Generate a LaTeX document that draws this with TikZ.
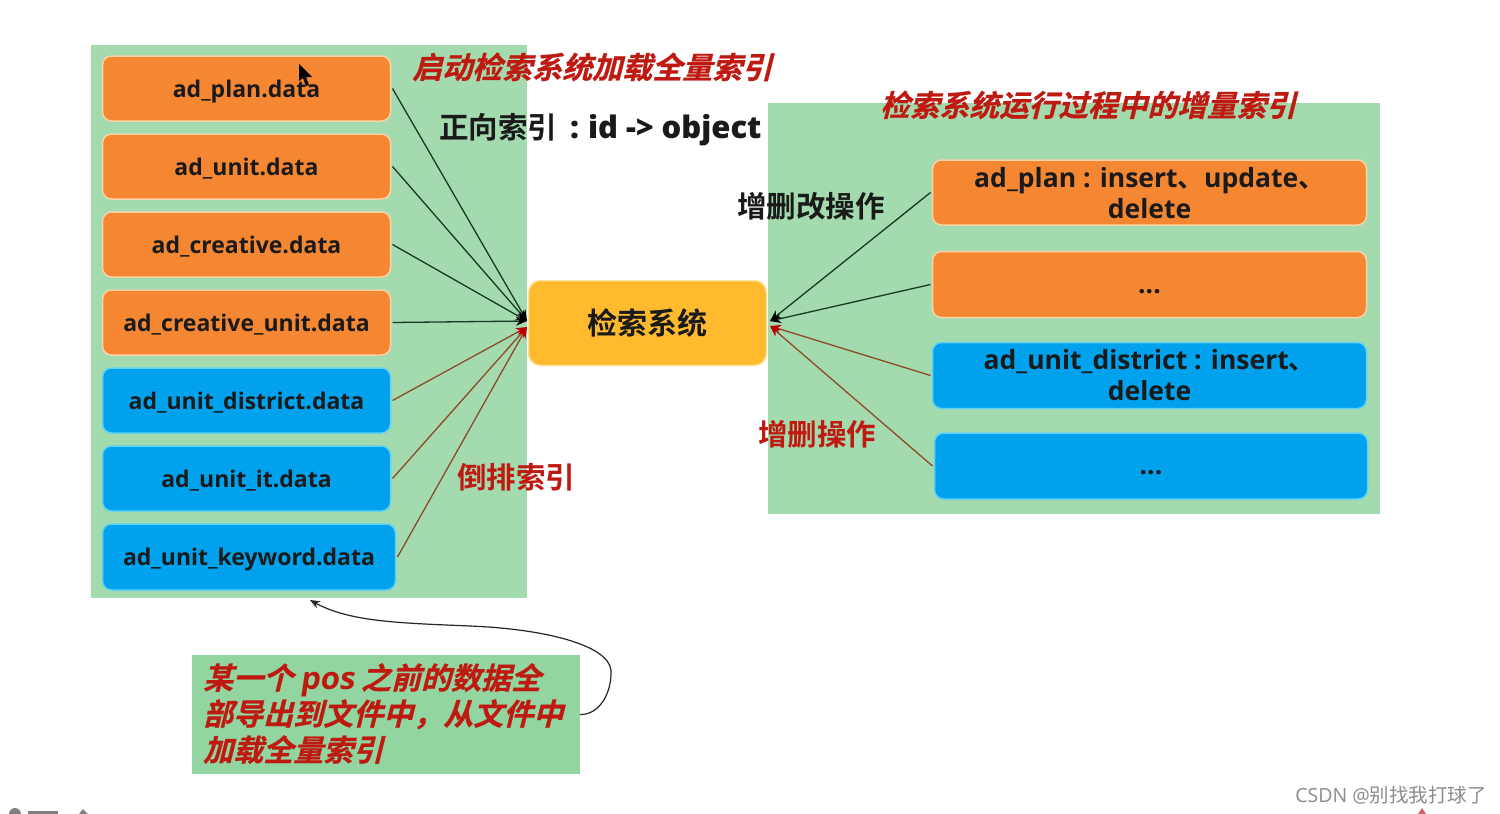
\documentclass[tikz,border=0pt]{standalone}
\usepackage{fontspec}
\setmainfont{Open Sans}
\newfontfamily\cjk{Noto Sans CJK SC}[BoldFont={Noto Sans CJK SC Bold}]
\newfontfamily\cjkit{Noto Sans CJK SC Bold}[FakeSlant=0.25,FakeBold=0.7]
\newfontfamily\latit{Open Sans Bold}[FakeSlant=0.15]
\newfontfamily\latb{Open Sans Bold}
\usetikzlibrary{arrows.meta}
\definecolor{panelg}{HTML}{A3DBAF}
\definecolor{noteg}{HTML}{92D5A0}
\definecolor{orangeb}{HTML}{F58733}
\definecolor{oedge}{HTML}{F9D2A8}
\definecolor{blueb}{HTML}{00A2EE}
\definecolor{bedge}{HTML}{5FD3F0}
\definecolor{hubc}{HTML}{FFBA2E}
\definecolor{hube}{HTML}{FBE3A0}
\definecolor{redt}{HTML}{BF1A12}
\definecolor{inkt}{HTML}{1A1A1A}
\definecolor{redl}{HTML}{8E4A28}
\definecolor{blkl}{HTML}{173A22}
\newcommand{\lowtxt}[2][8.5pt]{\raisebox{-#1}[0pt][0pt]{#2}}
\tikzset{
 panel/.style={fill=panelg,draw=none,inner sep=0,outer sep=0},
 card/.style={rounded corners=9pt,line width=1.5pt,inner sep=0,outer sep=2pt,align=center,font=\latb\fontsize{23}{31}\selectfont,text=inkt},
 orangecard/.style={card,fill=orangeb,draw=oedge},
 bluecard/.style={card,fill=blueb,draw=bedge},
 widetext/.style={font=\latb\fontsize{26.5}{31}\selectfont},
 hubbox/.style={rounded corners=12pt,line width=1.5pt,fill=hubc,draw=hube,inner sep=0,outer sep=0,font=\cjk\bfseries\fontsize{30}{36}\selectfont,text=inkt},
 redtitle/.style={inner sep=0,text=redt,font=\cjkit\fontsize{30}{36}\selectfont},
 redplain/.style={inner sep=0,text=redt,font=\cjk\bfseries\fontsize{29.5}{36}\selectfont},
 blacklabel/.style={inner sep=0,text=inkt,font=\cjk\bfseries\fontsize{29.5}{36}\selectfont},
 blackconn/.style={draw=blkl,line width=1.3pt,-{Stealth[length=11pt,width=9pt,color=black]}},
 redconn/.style={draw=redl,line width=1.3pt,-{Stealth[length=11pt,width=9pt,color=red!75!black]}},
}
\begin{document}
\begin{tikzpicture}[x=1pt,y=-1pt]
\useasboundingbox (0,0) rectangle (1500,814);
\fill[white] (0,0) rectangle (1500,814);
\node[panel,minimum width=436pt,minimum height=553pt] (lp) at (309,321.5) {};
\node[panel,minimum width=612pt,minimum height=411pt] (rp) at (1074,308.5) {};
\node[panel,fill=noteg,minimum width=388pt,minimum height=119pt] (note) at (386,714.5) {};
\node[orangecard,minimum width=288pt,minimum height=65pt] (a) at (246.5,88.5) {\lowtxt{ad\_plan.data}};
\node[orangecard,minimum width=288pt,minimum height=65pt] (b) at (246.5,166.5) {\lowtxt{ad\_unit.data}};
\node[orangecard,minimum width=288pt,minimum height=65pt] (c) at (246.5,244.5) {\lowtxt{ad\_creative.data}};
\node[orangecard,minimum width=288pt,minimum height=65pt] (d) at (246.5,322.5) {\lowtxt{ad\_creative\_unit.data}};
\node[bluecard,minimum width=288pt,minimum height=65pt] (e) at (246.5,400.5) {\lowtxt{ad\_unit\_district.data}};
\node[bluecard,minimum width=288pt,minimum height=65pt] (f) at (246.5,478.5) {\lowtxt{ad\_unit\_it.data}};
\node[bluecard,minimum width=293pt,minimum height=66pt] (g) at (249,557) {\lowtxt{ad\_unit\_keyword.data}};
\node[hubbox,minimum width=238pt,minimum height=85pt] (hub) at (647.5,323) {检索系统};
\node[orangecard,widetext,minimum width=434pt,minimum height=65pt] (r1) at (1149.5,192.5) {\rule{0pt}{22pt}ad\_plan : insert{\cjk\bfseries 、}update{\cjk\bfseries 、}\\delete};
\node[orangecard,widetext,minimum width=434pt,minimum height=66pt] (r2) at (1149.5,284.5) {\lowtxt{...}};
\node[bluecard,widetext,minimum width=434pt,minimum height=66pt] (r3) at (1149.5,375.5) {ad\_unit\_district : insert{\cjk\bfseries 、}\\delete};
\node[bluecard,widetext,minimum width=433pt,minimum height=66pt] (r4) at (1151,466) {\lowtxt{...}};
\coordinate (lblk) at (527,321);
\coordinate (lred) at (527,327);
\coordinate (rblk) at (770,321);
\coordinate (rred) at (770,326);
\foreach \s in {a,b,c,d} \draw[blackconn] (\s.east) -- (lblk);
\foreach \s in {e,f,g} \draw[redconn] (\s.east) -- (lred);
\foreach \s in {r1,r2} \draw[blackconn] (\s.west) -- (rblk);
\foreach \s in {r3,r4} \draw[redconn] (\s.west) -- (rred);
\node[redtitle,anchor=west] (t1) at (412,67) {启动检索系统加载全量索引};
\node[redtitle,anchor=west,font=\cjkit\fontsize{29.7}{36}\selectfont] (t2) at (880,105) {检索系统运行过程中的增量索引};
\node[blacklabel,anchor=west] (t3) at (439,130) {正向索引\hspace{13pt}{\latb\fontsize{31}{36}\selectfont :\hspace{9pt}id -> object}};
\node[blacklabel,anchor=west] (t4) at (737,206) {增删改操作};
\node[redplain,anchor=west] (t5) at (758,434) {增删操作};
\node[redplain,anchor=west] (t6) at (457,477) {倒排索引};
\node[anchor=north west,inner sep=0,text=redt,align=left,font=\cjkit\fontsize{30}{36}\selectfont] (t7) at (203,663) {某一个 {\latit\fontsize{31}{36}\selectfont pos} 之前的数据全\\部导出到文件中，从文件中\\加载全量索引};
\node[anchor=east,inner sep=0,text=black!45,font=\cjk\fontsize{19.5}{24}\selectfont] (wm) at (1487,795) {{\fontspec{Open Sans}CSDN @}别找我打球了};
\coordinate (back) at (310,600);
\draw[line width=1.2pt,draw=black!85,-{Stealth[length=10pt,width=8pt]}] (note.east) .. controls (600,715) and (612,692) .. (611,670) .. controls (608,645) and (545,629) .. (470,626) .. controls (400,623) and (350,622) .. (back);
\fill[black] (299,64) -- (299,81) -- (303,78) -- (306,86) -- (309,85) -- (306,77) -- (312,77) -- cycle;
\fill[black!50] (15,814) circle (6pt);
\fill[black!50] (28,811) rectangle (58,814);
\fill[black!50] (79,814) -- (83,809) -- (88,814) -- cycle;
\fill[red!70!black!60] (1418,814) -- (1422,808) -- (1426,814) -- cycle;
\end{tikzpicture}
\end{document}
